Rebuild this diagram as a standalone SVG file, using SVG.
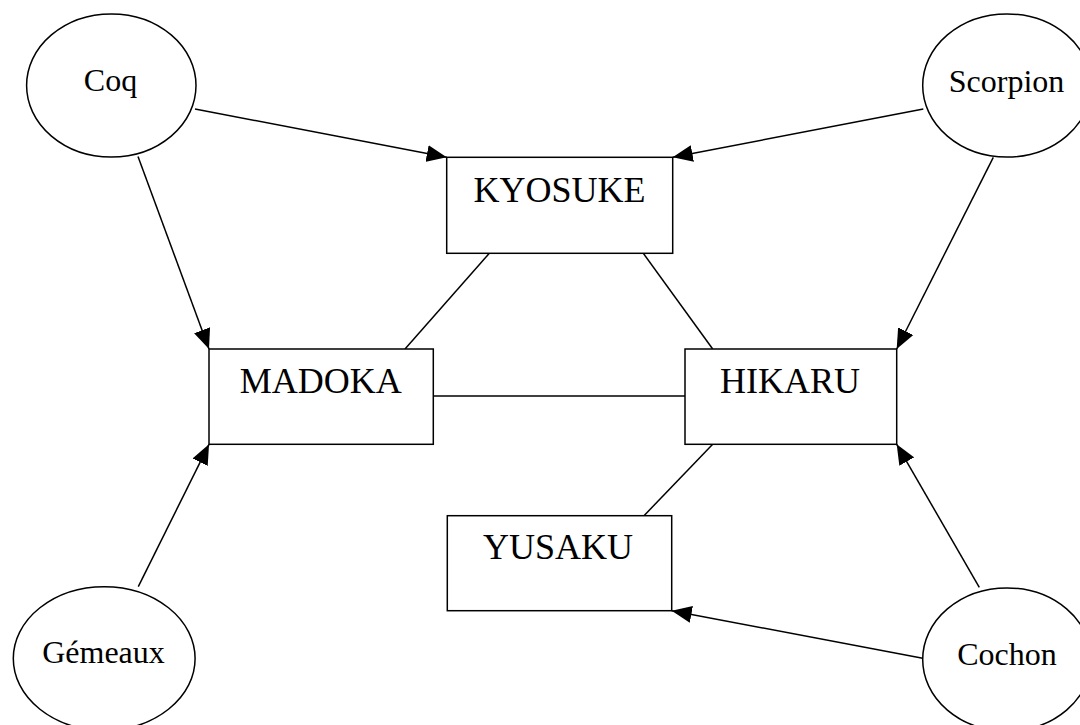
<svg xmlns="http://www.w3.org/2000/svg" width="1080" height="725" viewBox="0 0 1080 725">
<style>
.n{fill:#fff;stroke:#000;stroke-width:1.5}
.e{stroke:#000;stroke-width:1.5;fill:none}
.t{font-family:"Liberation Serif","Times New Roman",serif;fill:#000;text-anchor:middle}
.s{font-size:32px}
.b{font-size:36px}
</style>
<defs>
<marker id="ah" markerUnits="userSpaceOnUse" markerWidth="22" markerHeight="18" refX="20" refY="8.5" orient="auto" viewBox="0 0 22 17">
<polygon points="0,0 20,8.5 0,17" fill="#000"/>
</marker>
</defs>
<rect width="1080" height="725" fill="#fff"/>
<g id="connectors">
<line class="e" x1="195" y1="109" x2="446.7" y2="157.3" marker-end="url(#ah)"/>
<line class="e" x1="138" y1="156.5" x2="209" y2="349" marker-end="url(#ah)"/>
<line class="e" x1="923.3" y1="109" x2="672.7" y2="157.3" marker-end="url(#ah)"/>
<line class="e" x1="993.3" y1="157.3" x2="896.7" y2="349" marker-end="url(#ah)"/>
<line class="e" x1="138.3" y1="586.7" x2="209" y2="444.3" marker-end="url(#ah)"/>
<line class="e" x1="979.3" y1="587.3" x2="896.7" y2="444.3" marker-end="url(#ah)"/>
<line class="e" x1="922.7" y1="658.3" x2="671.7" y2="610.7" marker-end="url(#ah)"/>
<line class="e" x1="489.3" y1="253.3" x2="405" y2="349"/>
<line class="e" x1="643.3" y1="253.3" x2="712.7" y2="349"/>
<line class="e" x1="433.3" y1="396" x2="685" y2="396"/>
<line class="e" x1="712.7" y1="444.3" x2="644" y2="515.7"/>
</g>
<g id="coq"><ellipse class="n" cx="111.3" cy="85.5" rx="84.7" ry="71.5"/><text class="t s" x="110.5" y="91">Coq</text></g>
<g id="scorpion"><ellipse class="n" cx="1007" cy="85.5" rx="84.3" ry="71.5"/><text class="t s" x="1006.5" y="91.5">Scorpion</text></g>
<g id="gemeaux"><ellipse class="n" cx="104.2" cy="658.5" rx="90.9" ry="71.8"/><text class="t s" x="103.5" y="663">Gémeaux</text></g>
<g id="cochon"><ellipse class="n" cx="1007" cy="659.5" rx="84.3" ry="71.5"/><text class="t s" x="1007" y="665">Cochon</text></g>
<g id="kyosuke"><rect class="n" x="446.7" y="157.3" width="226" height="96"/><text class="t b" x="559.5" y="201.7">KYOSUKE</text></g>
<g id="madoka"><rect class="n" x="209" y="349" width="224.3" height="95.3"/><text class="t b" x="320.8" y="392.7">MADOKA</text></g>
<g id="hikaru"><rect class="n" x="685" y="349" width="211.7" height="95.3"/><text class="t b" x="790" y="392.7">HIKARU</text></g>
<g id="yusaku"><rect class="n" x="447.3" y="515.7" width="224.4" height="95"/><text class="t b" x="558" y="559.3">YUSAKU</text></g>
</svg>
